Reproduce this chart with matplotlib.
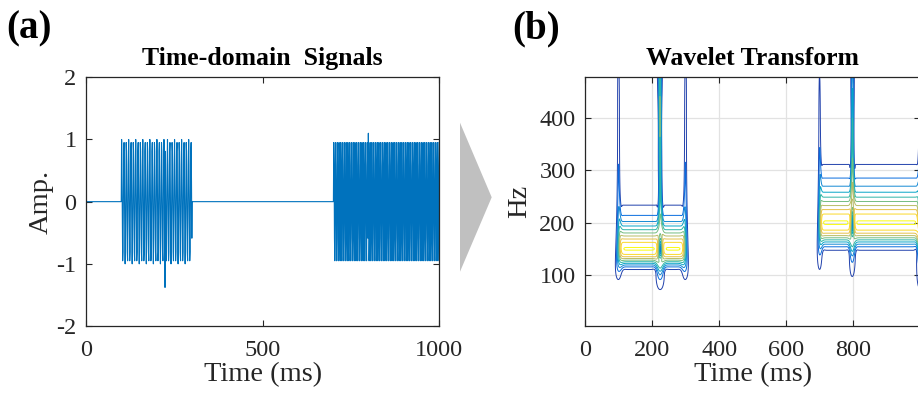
import numpy as np
import matplotlib
matplotlib.use("Agg")
import matplotlib.pyplot as plt
from matplotlib.colors import LinearSegmentedColormap
from matplotlib.patches import Polygon

# ---------------- signal description ----------------
fs_hz = 1000                      # sampling rate
duration_ms = 1000
burst_start_ms = [100, 700]
burst_stop_ms = [300, 1000]
burst_freq_hz = [150, 200]
burst_phase = [np.pi / 2, 0.0]    # carrier phase at t = 0
burst_amp = [1.0, 1.0]
phase_flip_ms = [222, 800]        # carrier phase reversals inside the bursts
spike_ms = [223, 799]
spike_amp = [-1.38, 1.10]

# ---------------- axis ticks ----------------
amp_ticks = [-2, -1, 0, 1, 2]
time_ticks_a = [0, 500, 1000]
time_ticks_b = [0, 200, 400, 600, 800]
freq_ticks = [100, 200, 300, 400]
freq_range_hz = [2.5, 478]

# ---------------- build the time-domain signal ----------------
t_ms = np.arange(0, duration_ms, 1000 / fs_hz)
sig = np.zeros_like(t_ms)
for start, stop, f, p0, a in zip(burst_start_ms, burst_stop_ms, burst_freq_hz,
                                 burst_phase, burst_amp):
    m = (t_ms >= start) & (t_ms < stop)
    ph = 2 * np.pi * f * t_ms / 1000.0 + p0
    for tf in phase_flip_ms:
        if start <= tf < stop:
            ph = np.where(t_ms >= tf, ph + np.pi, ph)
    sig[m] = a * np.sin(ph[m])
for ts, a in zip(spike_ms, spike_amp):
    sig[int(round(ts * fs_hz / 1000))] = a

# ---------------- analytic Morlet CWT ----------------
w0 = 6.0
n = sig.size
ext = np.concatenate([sig[::-1], sig, sig[::-1]])
X = np.fft.fft(ext)
omega = 2 * np.pi * np.fft.fftfreq(ext.size, d=1.0 / fs_hz)
freqs = np.geomspace(freq_range_hz[0], freq_range_hz[1], 420)
coef = np.empty((freqs.size, n))
for i, f in enumerate(freqs):
    s = w0 / (2 * np.pi * f)
    psi = 2.0 * np.exp(-0.5 * (s * omega - w0) ** 2) * (omega > 0)
    coef[i] = np.abs(np.fft.ifft(X * psi))[n:2 * n]

# parula-like colour map
parula = LinearSegmentedColormap.from_list(
    "parula_like",
    ["#352A87", "#0363E1", "#1485D4", "#06A7C6", "#38B99E",
     "#92BF73", "#D9BA56", "#FCCE2E", "#F9FB0E"])

cmax = coef.max()
levels = list(np.arange(0.1, 0.95, 0.1)) + [0.995 * cmax]
lo, hi = 0.05, levels[-1]
level_colors = [parula((lv - lo) / (hi - lo)) for lv in levels]

# ---------------- figure ----------------
plt.rcParams["font.family"] = ["Liberation Serif", "DejaVu Serif"]
W, H = 918, 401
fig = plt.figure(figsize=(W / 100, H / 100), dpi=100)

axis_col = "#262626"
tick_fs = 17.5
label_fs = 20.5
title_fs = 18.5


def px_axes(x0, x1, y0, y1):
    return fig.add_axes([x0 / W, 1 - y1 / H, (x1 - x0) / W, (y1 - y0) / H])


def style(ax):
    for sp in ax.spines.values():
        sp.set_color(axis_col)
        sp.set_linewidth(0.9)
    ax.tick_params(direction="in", length=4.5, width=0.8, color=axis_col,
                   labelcolor=axis_col, labelsize=tick_fs,
                   top=True, right=True)
    ax.tick_params(axis="x", pad=10)
    ax.tick_params(axis="y", pad=7)


# (a) time-domain signal
ax1 = px_axes(86.3, 439.3, 77.3, 326)
ax1.plot(t_ms, sig, color="#0072BD", lw=0.8)
ax1.set_xlim(0, duration_ms)
ax1.set_ylim(-2, 2)
ax1.set_xticks(time_ticks_a)
ax1.set_yticks(amp_ticks)
ax1.set_xticklabels([str(v) for v in time_ticks_a])
ax1.set_yticklabels([str(v) for v in amp_ticks])
style(ax1)
ax1.set_xlabel("Time (ms)", fontsize=label_fs, color=axis_col, labelpad=1)
ax1.set_ylabel("Amp.", fontsize=label_fs, color=axis_col, labelpad=2)
ax1.set_title("Time-domain  Signals", fontsize=title_fs, fontweight="bold",
              pad=8.5)

# (b) wavelet transform contour
ax2 = px_axes(585.3, 920, 77.3, 326)
ax2.contour(t_ms, freqs, coef, levels=levels, colors=level_colors,
            linewidths=0.7)
ax2.set_xlim(0, duration_ms)
ax2.set_ylim(*freq_range_hz)
ax2.set_xticks(time_ticks_b)
ax2.set_yticks(freq_ticks)
ax2.grid(True, color="#e2e2e2", lw=0.9)
ax2.set_axisbelow(True)
style(ax2)
ax2.set_xlabel("Time (ms)", fontsize=label_fs, color=axis_col, labelpad=1)
ax2.set_ylabel("Hz", fontsize=label_fs, color=axis_col, labelpad=5)
ax2.set_title("Wavelet Transform", fontsize=title_fs, fontweight="bold",
              pad=8.5)

# arrow between the panels
arrow_px = [(460, 122.7), (491.7, 197.3), (460, 271.7)]
fig.patches.append(Polygon([(x / W, 1 - y / H) for x, y in arrow_px],
                           closed=True, transform=fig.transFigure,
                           facecolor="#c0c0c0", edgecolor="none"))

# panel letters
fig.text(6 / W, 1 - 10 / H, "(a)", fontsize=28, fontweight="bold", va="top")
fig.text(512 / W, 1 - 10 / H, "(b)", fontsize=28, fontweight="bold", va="top")

fig.savefig("out.png", dpi=100)
